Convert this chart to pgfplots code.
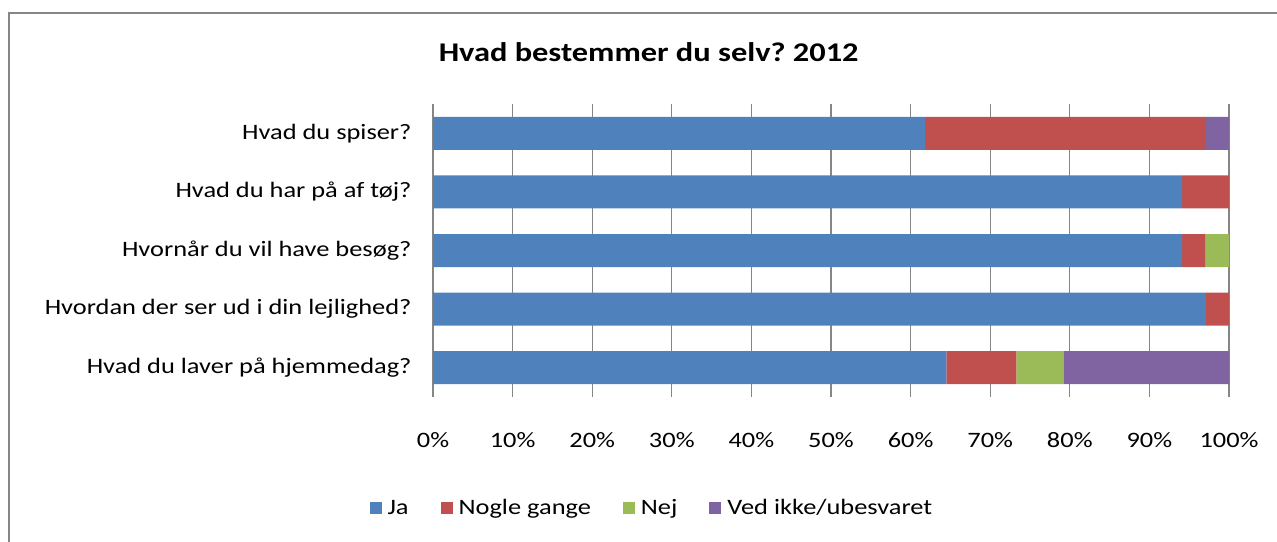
\documentclass[border=0pt]{standalone}
\usepackage{fontspec}
\setmainfont{Carlito}[FakeStretch=1.2]
\usepackage{pgfplots}
\pgfplotsset{compat=1.18}
\definecolor{cja}{HTML}{4F81BD}
\definecolor{cnogle}{HTML}{C0504D}
\definecolor{cnej}{HTML}{9BBB59}
\definecolor{cved}{HTML}{8064A2}
\definecolor{gridgray}{HTML}{868686}
\frenchspacing

\begin{document}
\begin{tikzpicture}[x=1bp,y=1bp]
\useasboundingbox (0,0) rectangle (1277,-542);
\draw[gridgray,line width=2bp] (9,-545) -- (9,-13) -- (1280,-13);
\begin{axis}[at={(433bp,-397bp)},anchor=south west,
  scale only axis,width=796bp,height=293bp,
  xbar stacked,bar width=33bp,
  xmin=0,xmax=100,ymin=-0.5,ymax=4.5,y dir=reverse,
  xtick={0,10,...,100},xticklabel={\pgfmathprintnumber{\tick}\%},
  ytick={0,1,2,3,4},
  yticklabels={Hvad du spiser?,Hvad du har på af tøj?,Hvornår du vil have besøg?,Hvordan der ser ud i din lejlighed?,Hvad du laver på hjemmedag?},
  /pgf/number format/assume math mode=true,
  tick style={draw=none},
  xmajorgrids,grid style={gridgray,line width=1.2bp},
  axis lines*=left,
  x axis line style={draw=none},
  y axis line style={gridgray,line width=1.2bp,-},
  xticklabel style={yshift=-32bp},
  yticklabel style={xshift=-18bp},
  every tick label/.append style={font=\fontsize{22bp}{24bp}\selectfont},
  title={Hvad bestemmer du selv? 2012},
  title style={at={(0.271,1.156)},anchor=center,font=\fontsize{27bp}{30bp}\selectfont\bfseries},
  legend style={at={(0.275,-0.379)},anchor=center,draw=none,font=\fontsize{22bp}{24bp}\selectfont,
    /tikz/every odd column/.append style={column sep=4bp},
    /tikz/every even column/.append style={column sep=30bp}},
  legend columns=-1,
  legend image code/.code={\fill[#1] (0bp,-6bp) rectangle (12bp,6bp);},
]
\addplot[fill=cja,draw=none] coordinates {(61.8,0) (94.1,1) (94.1,2) (97.1,3) (64.5,4)};
\addplot[fill=cnogle,draw=none] coordinates {(35.3,0) (5.9,1) (2.9,2) (2.9,3) (8.8,4)};
\addplot[fill=cnej,draw=none] coordinates {(0,0) (0,1) (3.0,2) (0,3) (5.9,4)};
\addplot[fill=cved,draw=none] coordinates {(2.9,0) (0,1) (0,2) (0,3) (20.8,4)};
\legend{Ja,Nogle gange,Nej,Ved ikke/ubesvaret}
\end{axis}
\end{tikzpicture}
\end{document}
